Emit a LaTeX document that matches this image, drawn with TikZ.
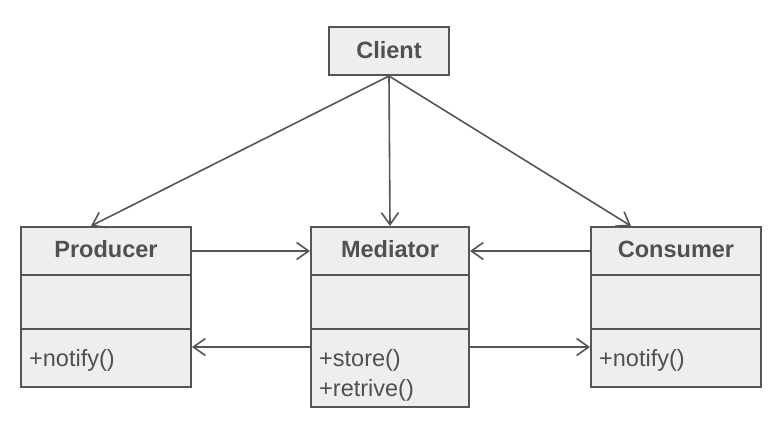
\documentclass[tikz,border=0pt]{standalone}
\usepackage{fontspec}
\setmainfont{Liberation Sans}
\usetikzlibrary{arrows.meta}
\definecolor{umlstroke}{HTML}{555555}
\definecolor{umlfill}{HTML}{EEEEEE}
\definecolor{umltext}{HTML}{505050}
\begin{document}
\begin{tikzpicture}[x=1pt,y=-1pt,
  umlbox/.style={draw=umlstroke, fill=umlfill, line width=2pt, inner sep=0pt},
  titletext/.style={font=\fontsize{23.5}{28}\selectfont\bfseries, text=umltext, anchor=base},
  methtext/.style={font=\fontsize{23.5}{28}\selectfont, text=umltext, anchor=base west, inner sep=0pt},
  divider/.style={draw=umlstroke, line width=2pt},
  conn/.style={draw=umlstroke, line width=1.6pt, -{Straight Barb[length=12pt,width=17pt,line width=1.6pt]}}
]
\useasboundingbox (0,0) rectangle (784,428);
% boxes
\node[umlbox, minimum width=120pt, minimum height=48pt] (client) at (389,51) {};
\node[umlbox, minimum width=170pt, minimum height=160pt] (prod) at (106,307) {};
\node[umlbox, minimum width=158pt, minimum height=180pt] (med) at (390,317) {};
\node[umlbox, minimum width=170pt, minimum height=160pt] (cons) at (676,307) {};
% dividers
\foreach \b in {prod,med,cons}{
  \draw[divider] ([yshift=-49pt]\b.north west) -- ([yshift=-49pt]\b.north east);
  \draw[divider] ([yshift=-103pt]\b.north west) -- ([yshift=-103pt]\b.north east);
}
% titles
\node[titletext] (tclient) at (389,59) {Client};
\node[titletext] (tprod) at (106,257) {Producer};
\node[titletext] (tmed) at (390,257) {Mediator};
\node[titletext] (tcons) at (676,257) {Consumer};
% methods
\node[methtext] (mprod) at (29,366) {+notify()};
\node[methtext] (mmed1) at (319,366) {+store()};
\node[methtext] (mmed2) at (319,396) {+retrive()};
\node[methtext] (mcons) at (599,366) {+notify()};
% connector endpoints
\coordinate (ptop) at ([xshift=71pt]prod.north west);
\coordinate (ctop) at ([xshift=41pt]cons.north west);
% connectors
\draw[conn] (client.south) -- (ptop);
\draw[conn] (client.south) -- (med.north);
\draw[conn] (client.south) -- (ctop);
\draw[conn] ([yshift=-25pt]prod.north east) -- ([yshift=-25pt]med.north west);
\draw[conn] ([yshift=-25pt]cons.north west) -- ([yshift=-25pt]med.north east);
\draw[conn] ([yshift=-121pt]med.north west) -- ([yshift=-121pt]prod.north east);
\draw[conn] ([yshift=-121pt]med.north east) -- ([yshift=-121pt]cons.north west);
\end{tikzpicture}
\end{document}
